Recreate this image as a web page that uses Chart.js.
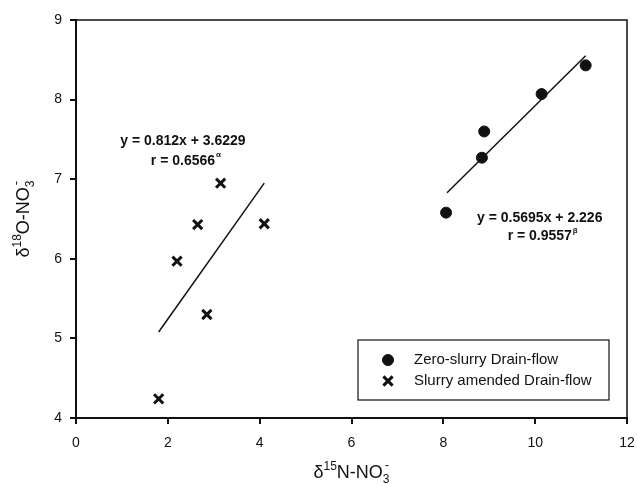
<!DOCTYPE html>
<html>
<head>
<meta charset="utf-8">
<script src="https://cdn.jsdelivr.net/npm/chart.js@4"></script>
<style>
  body { margin: 0; background: #fff; }
  #wrap { width: 637px; height: 487px; }
</style>
</head>
<body>
<div id="wrap"><canvas id="chart" width="637" height="487"></canvas></div>
<script>
// values
const zeroX = [8.06, 8.84, 8.89, 10.14, 11.1];
const zeroY = [6.58, 7.27, 7.60, 8.07, 8.43];
const slurryX = [1.8, 2.2, 2.85, 2.65, 3.15, 4.1];
const slurryY = [4.24, 5.97, 5.30, 6.43, 6.95, 6.44];

// regression line ends
const zeroFitX = [8.08, 11.1];
const zeroFitY = [6.83, 8.55];
const slurryFitX = [1.8, 4.1];
const slurryFitY = [5.08, 6.95];

const xTicks = [0, 2, 4, 6, 8, 10, 12];
const yTicks = [4, 5, 6, 7, 8, 9];

const legendLabels = ["Zero-slurry Drain-flow", "Slurry amended Drain-flow"];
const eqSlurry = ["y = 0.812x + 3.6229", "r = 0.6566", "\u03b1"];
const eqZero = ["y = 0.5695x + 2.226", "r = 0.9557", "\u03b2"];

const ink = "#111";
const FONT = "'Liberation Sans', Arial, sans-serif";

function toPoints(xs, ys) {
  return xs.map((x, i) => ({ x: x, y: ys[i] }));
}

// draws a run of text pieces (normal / sup / sub) centred on cx
function drawRich(ctx, parts, cx, cy) {
  let total = 0;
  parts.forEach(p => {
    ctx.font = p.size + "px " + FONT;
    p.w = p.stack ? 0 : ctx.measureText(p.t).width;
    total += p.w;
  });
  let x = cx - total / 2;
  ctx.textBaseline = "alphabetic";
  ctx.textAlign = "left";
  parts.forEach(p => {
    ctx.font = p.size + "px " + FONT;
    ctx.fillText(p.t, x + (p.dx || 0), cy + p.dy);
    x += p.w;
  });
}

const decorPlugin = {
  id: "decor",
  afterDraw(chart) {
    const ctx = chart.ctx;
    const a = chart.chartArea;
    const sx = chart.scales.x, sy = chart.scales.y;
    ctx.save();
    ctx.strokeStyle = ink;
    ctx.fillStyle = ink;

    // top and right frame
    ctx.lineWidth = 1.5;
    ctx.beginPath();
    ctx.moveTo(a.left, a.top);
    ctx.lineTo(a.right, a.top);
    ctx.lineTo(a.right, a.bottom);
    ctx.stroke();

    // axis titles
    drawRich(ctx, [
      { t: "\u03b4", size: 18, dy: 0 },
      { t: "15", size: 12, dy: -8 },
      { t: "N-NO", size: 18, dy: 0 },
      { t: "-", size: 13, dy: -9, stack: true, dx: 2 },
      { t: "3", size: 12, dy: 5 }
    ], (a.left + a.right) / 2, 478);

    ctx.save();
    ctx.translate(29, (a.top + a.bottom) / 2);
    ctx.rotate(-Math.PI / 2);
    drawRich(ctx, [
      { t: "\u03b4", size: 18, dy: 0 },
      { t: "18", size: 12, dy: -8 },
      { t: "O-NO", size: 18, dy: 0 },
      { t: "-", size: 13, dy: -9, stack: true, dx: 2 },
      { t: "3", size: 12, dy: 5 }
    ], 0, 0);
    ctx.restore();

    // equations
    ctx.textAlign = "center";
    ctx.textBaseline = "middle";
    const eqs = [
      { lines: eqSlurry, x: 2.33, y: 7.48, y2: 7.23 },
      { lines: eqZero, x: 10.1, y: 6.51, y2: 6.28 }
    ];
    eqs.forEach(e => {
      const px = sx.getPixelForValue(e.x);
      ctx.font = "bold 14px " + FONT;
      ctx.textAlign = "center";
      ctx.fillText(e.lines[0], px, sy.getPixelForValue(e.y));
      const w = ctx.measureText(e.lines[1]).width;
      const py2 = sy.getPixelForValue(e.y2);
      ctx.fillText(e.lines[1], px, py2);
      ctx.font = "bold 8px " + FONT;
      ctx.textAlign = "left";
      ctx.fillText(e.lines[2], px + w / 2 + 1, py2 - 6);
    });

    // legend box
    const bx = 358, by = 340, bw = 251, bh = 60;
    ctx.lineWidth = 1.2;
    ctx.fillStyle = "#fff";
    ctx.fillRect(bx, by, bw, bh);
    ctx.strokeRect(bx, by, bw, bh);
    const styles = [
      { pointStyle: "circle", radius: 5.5, borderWidth: 1 },
      { pointStyle: "crossRot", radius: 6.5, borderWidth: 3 }
    ];
    legendLabels.forEach((lab, i) => {
      const ly = by + 20 + i * 21;
      ctx.fillStyle = ink;
      ctx.strokeStyle = ink;
      ctx.lineWidth = styles[i].borderWidth;
      Chart.helpers.drawPoint(ctx, styles[i], bx + 30, ly);
      ctx.font = "15px " + FONT;
      ctx.textAlign = "left";
      ctx.textBaseline = "middle";
      ctx.fillText(lab, bx + 56, ly);
    });
    ctx.restore();
  }
};

new Chart(document.getElementById("chart"), {
  type: "scatter",
  data: {
    datasets: [
      {
        label: legendLabels[0],
        data: toPoints(zeroX, zeroY),
        pointStyle: "circle",
        pointRadius: 5.5,
        backgroundColor: ink,
        borderColor: ink,
        borderWidth: 1
      },
      {
        label: legendLabels[1],
        data: toPoints(slurryX, slurryY),
        pointStyle: "crossRot",
        pointRadius: 6.5,
        borderColor: ink,
        borderWidth: 3
      },
      {
        label: "zero fit",
        data: toPoints(zeroFitX, zeroFitY),
        showLine: true,
        pointRadius: 0,
        borderColor: ink,
        borderWidth: 1.5
      },
      {
        label: "slurry fit",
        data: toPoints(slurryFitX, slurryFitY),
        showLine: true,
        pointRadius: 0,
        borderColor: ink,
        borderWidth: 1.5
      }
    ]
  },
  options: {
    responsive: false,
    animation: false,
    layout: { padding: { top: 20, right: 10, left: 0, bottom: 0 } },
    plugins: {
      legend: { display: false },
      tooltip: { enabled: false }
    },
    scales: {
      x: {
        type: "linear",
        min: 0,
        max: 12,
        afterBuildTicks: s => { s.ticks = xTicks.map(v => ({ value: v })); },
        afterFit: s => { s.height = 69; s.paddingLeft = 0; s.paddingRight = 0; },
        ticks: { color: ink, font: { size: 14, family: FONT }, padding: 11 },
        grid: { drawOnChartArea: false, drawTicks: true, tickLength: 6, color: ink, lineWidth: 2 },
        border: { display: true, color: ink, width: 2 }
      },
      y: {
        type: "linear",
        min: 4,
        max: 9,
        afterBuildTicks: s => { s.ticks = yTicks.map(v => ({ value: v })); },
        afterFit: s => { s.width = 76; s.paddingTop = 0; s.paddingBottom = 0; },
        ticks: { color: ink, font: { size: 14, family: FONT }, padding: 8 },
        grid: { drawOnChartArea: false, drawTicks: true, tickLength: 6, color: ink, lineWidth: 2 },
        border: { display: true, color: ink, width: 2 }
      }
    }
  },
  plugins: [decorPlugin]
});
</script>
</body>
</html>
